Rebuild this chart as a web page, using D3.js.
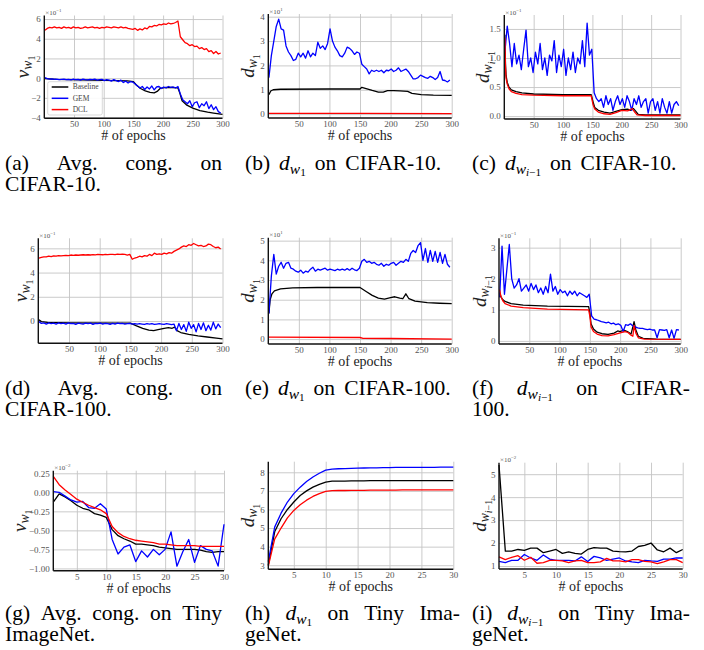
<!DOCTYPE html>
<html>
<head>
<meta charset="utf-8">
<script src="https://cdn.jsdelivr.net/npm/d3@7"></script>
<style>
body { margin: 0; background: #fff; }
svg { display: block; }
svg text { font-family: "Liberation Serif", "Times New Roman", "DejaVu Serif", serif; }
</style>
</head>
<body>
<script>
// epochs
var epochs4 = d3.range(1, 300, 4);   // 1, 5, ..., 297 (75 points) for the noisy runs
var epochs30 = d3.range(1, 31);      // Tiny ImageNet

// (a) avg. congruency, CIFAR-10 (x1e-1)
var aGEM = [
  0.05, -0.05, -0.10, -0.08, -0.12, -0.10, -0.15, -0.12, -0.10, -0.15,
  -0.12, -0.18, -0.10, -0.15, -0.12, -0.20, -0.10, -0.15, -0.18, -0.12,
  -0.15, -0.10, -0.20, -0.15, -0.12, -0.25, -0.15, -0.20, -0.30, -0.15,
  -0.25, -0.35, -0.20, -0.45, -0.30, -0.50, -0.35, -0.40, -0.60, -0.80,
  -1.00, -0.85, -1.15, -0.90, -1.10, -0.80, -1.20, -0.90, -0.85, -1.05,
  -0.90, -1.00, -0.85, -0.95, -0.90, -1.00, -0.85, -1.60, -2.20, -2.40,
  -2.60, -2.30, -2.90, -2.50, -2.40, -3.00, -2.60, -2.80, -2.40, -3.10,
  -2.70, -3.20, -2.90, -3.40, -3.55];
var aDCL = [
  4.85, 5.05, 5.15, 5.10, 5.20, 5.10, 5.15, 5.05, 5.20, 5.10,
  5.15, 5.05, 5.20, 5.10, 5.15, 5.05, 5.10, 5.20, 5.10, 5.15,
  5.20, 5.10, 5.15, 5.05, 5.15, 5.10, 5.20, 5.15, 5.10, 5.20,
  5.15, 5.10, 5.20, 5.10, 5.15, 5.05, 5.00, 4.95, 5.05, 4.85,
  5.00, 4.90, 5.10, 5.00, 5.25, 5.20, 5.35, 5.30, 5.45, 5.40,
  5.50, 5.45, 5.60, 5.50, 5.55, 5.65, 5.80, 4.20, 3.90, 3.60,
  3.50, 3.30, 3.40, 3.20, 3.25, 3.00, 3.10, 2.90, 3.00, 2.70,
  2.80, 2.50, 2.70, 2.45, 2.55];
var aBaseline = [[1, -0.05], [20, -0.12], [60, -0.18], [100, -0.22], [140, -0.28], [150, -0.35],
  [155, -0.7], [162, -1.05], [170, -1.3], [178, -1.45], [185, -1.5], [190, -1.35], [195, -1.05],
  [205, -0.95], [215, -0.95], [225, -1.0], [228, -1.5], [232, -2.3], [240, -2.75], [250, -3.05],
  [262, -3.3], [275, -3.45], [285, -3.55], [300, -3.68]];

// (b) d_w1, CIFAR-10 (x1e1)
var bGEM = [
  1.50, 2.40, 3.00, 3.60, 3.90, 3.50, 3.45, 2.80, 2.55, 2.40,
  2.20, 2.25, 2.50, 2.35, 2.50, 2.30, 2.60, 2.35, 2.50, 2.40,
  2.95, 2.70, 2.80, 2.65, 2.90, 3.50, 3.00, 2.75, 2.60, 2.40,
  2.35, 2.50, 2.75, 2.70, 2.60, 2.45, 2.55, 2.50, 2.05, 1.95,
  1.85, 1.65, 1.80, 1.75, 1.80, 1.75, 1.80, 1.70, 1.80, 1.78,
  1.85, 1.75, 1.80, 1.90, 1.75, 1.80, 1.85, 1.75, 1.60, 1.45,
  1.45, 1.50, 1.60, 1.55, 1.50, 1.47, 1.55, 1.50, 1.42, 1.50,
  1.75, 1.40, 1.38, 1.32, 1.40];
var bBaseline = [[1, 0.8], [4, 0.95], [8, 1.0], [20, 1.02], [100, 1.03], [150, 1.03], [153, 1.1],
  [160, 1.05], [170, 0.97], [180, 0.9], [188, 0.9], [195, 0.96], [205, 0.96], [215, 0.95],
  [228, 0.93], [235, 0.85], [250, 0.8], [270, 0.78], [300, 0.77]];
var bDCL = [[1, 0.03], [150, 0.03], [300, 0.02]];

// (c) d_wi-1, CIFAR-10 (x1e-1)
var cGEM = [
  1.10, 1.55, 1.25, 0.85, 1.25, 0.90, 1.05, 0.80, 1.15, 1.48,
  0.85, 1.00, 0.75, 1.10, 0.90, 1.25, 0.80, 1.00, 0.70, 1.05,
  0.95, 1.30, 0.75, 1.05, 0.85, 1.15, 0.70, 1.00, 0.80, 1.10,
  0.75, 1.00, 0.90, 1.30, 0.85, 1.60, 1.05, 1.15, 0.40, 0.30,
  0.25, 0.30, 0.15, 0.35, 0.20, 0.30, 0.10, 0.25, 0.35, 0.20,
  0.30, 0.15, 0.35, 0.25, 0.10, 0.30, 0.20, 0.35, 0.15, 0.25,
  0.30, 0.05, 0.25, 0.30, 0.10, 0.25, 0.05, 0.30, 0.15, 0.05,
  0.25, 0.05, 0.20, 0.25, 0.18];
var cBaseline = [[1, 1.4], [2, 0.9], [3, 0.7], [5, 0.58], [8, 0.5], [12, 0.45], [20, 0.42], [30, 0.4],
  [50, 0.38], [100, 0.37], [148, 0.37], [151, 0.25], [154, 0.15], [160, 0.1], [170, 0.07], [180, 0.05],
  [190, 0.08], [200, 0.11], [210, 0.12], [215, 0.1], [220, 0.13], [224, 0.08], [228, 0.03], [240, 0.02], [300, 0.02]];
var cDCL = [[1, 1.35], [2, 0.85], [3, 0.65], [5, 0.55], [8, 0.47], [12, 0.42], [20, 0.39], [30, 0.37],
  [50, 0.36], [100, 0.35], [148, 0.35], [151, 0.2], [154, 0.12], [160, 0.07], [170, 0.04], [180, 0.03],
  [190, 0.06], [200, 0.1], [210, 0.09], [218, 0.13], [222, 0.07], [226, 0.02], [240, 0.01], [300, 0.01]];

// (d) avg. congruency, CIFAR-100 (x1e-1)
var dGEM = [
  -0.05, -0.20, -0.15, -0.25, -0.15, -0.22, -0.18, -0.25, -0.15, -0.22,
  -0.18, -0.25, -0.15, -0.22, -0.20, -0.28, -0.18, -0.22, -0.25, -0.18,
  -0.22, -0.18, -0.28, -0.20, -0.22, -0.18, -0.25, -0.20, -0.22, -0.28,
  -0.20, -0.25, -0.18, -0.22, -0.20, -0.25, -0.22, -0.20, -0.25, -0.22,
  -0.25, -0.22, -0.25, -0.28, -0.22, -0.25, -0.22, -0.28, -0.25, -0.22,
  -0.25, -0.28, -0.22, -0.25, -0.30, -0.25, -0.80, -0.20, -0.70, -0.30,
  -0.85, -0.10, -0.60, -0.30, -0.90, -0.20, -0.70, -0.15, -0.80, -0.35,
  -0.75, -0.10, -0.65, -0.25, -0.55];
var dDCL = [
  5.20, 5.25, 5.30, 5.30, 5.35, 5.32, 5.38, 5.35, 5.40, 5.38,
  5.40, 5.42, 5.40, 5.45, 5.42, 5.45, 5.43, 5.45, 5.47, 5.45,
  5.47, 5.45, 5.48, 5.46, 5.50, 5.48, 5.47, 5.50, 5.48, 5.50,
  5.50, 5.48, 5.52, 5.50, 5.52, 5.50, 5.45, 5.50, 5.10, 5.20,
  5.25, 5.35, 5.30, 5.40, 5.35, 5.50, 5.40, 5.60, 5.50, 5.55,
  5.50, 5.60, 5.55, 5.65, 5.60, 5.75, 5.85, 5.95, 6.10, 6.20,
  6.15, 6.30, 6.25, 6.40, 6.30, 6.20, 6.25, 6.15, 6.20, 6.35,
  6.30, 6.15, 6.05, 6.10, 5.95];
var dBaseline = [[1, 0.1], [5, -0.05], [15, -0.12], [50, -0.15], [150, -0.17], [160, -0.4], [170, -0.6],
  [180, -0.75], [188, -0.8], [195, -0.72], [205, -0.6], [212, -0.55], [218, -0.6], [222, -0.5],
  [226, -0.8], [232, -0.95], [245, -1.1], [260, -1.22], [275, -1.32], [290, -1.42], [300, -1.48]];

// (e) d_w1, CIFAR-100 (x1e1)
var eGEM = [
  1.30, 3.20, 4.30, 3.30, 3.70, 3.90, 3.60, 3.85, 3.90, 3.60,
  3.55, 3.45, 3.40, 3.50, 3.35, 3.45, 3.40, 3.55, 3.65, 3.45,
  3.55, 3.50, 3.55, 3.60, 3.50, 3.55, 3.52, 3.48, 3.55, 3.50,
  3.55, 3.50, 3.58, 3.50, 3.60, 3.52, 3.48, 3.60, 3.95, 4.05,
  3.90, 3.95, 3.85, 3.90, 3.80, 3.75, 3.85, 3.70, 3.80, 3.75,
  3.85, 3.90, 3.75, 3.85, 3.95, 3.90, 4.05, 3.95, 4.35, 4.50,
  4.40, 4.75, 4.90, 4.00, 4.60, 3.90, 4.50, 3.95, 4.45, 3.90,
  4.40, 3.85, 4.30, 3.80, 3.65];
var eBaseline = [[1, 1.3], [3, 2.0], [6, 2.3], [10, 2.45], [20, 2.55], [40, 2.6], [80, 2.62], [150, 2.62],
  [160, 2.42], [170, 2.22], [180, 2.08], [190, 2.03], [200, 2.1], [207, 2.15], [215, 2.08], [220, 2.05],
  [225, 2.3], [230, 2.05], [240, 1.93], [260, 1.85], [280, 1.82], [300, 1.8]];
var eDCL = [[1, 0.1], [150, 0.08], [155, 0.04], [200, 0.03], [300, 0.0]];

// (f) d_wi-1, CIFAR-100 (x1e-1)
var fGEM = [
  1.40, 3.05, 1.50, 2.30, 3.10, 2.00, 1.70, 1.80, 2.00, 1.60,
  1.70, 1.80, 1.60, 1.85, 1.65, 1.80, 1.55, 1.70, 1.50, 1.75,
  1.55, 2.15, 1.60, 1.75, 1.50, 1.65, 1.55, 1.60, 1.45, 1.60,
  1.50, 1.60, 1.45, 1.55, 1.50, 1.45, 1.40, 1.50, 0.80, 0.70,
  0.68, 0.65, 0.62, 0.60, 0.58, 0.60, 0.55, 0.57, 0.52, 0.55,
  0.50, 0.30, 0.52, 0.50, 0.55, 0.48, 0.45, 0.42, 0.40, 0.40,
  0.38, 0.36, 0.38, 0.35, 0.35, 0.10, 0.36, 0.35, 0.34, 0.36,
  0.10, 0.35, 0.08, 0.36, 0.35];
var fBaseline = [[1, 1.55], [3, 1.42], [6, 1.33], [10, 1.27], [20, 1.2], [40, 1.15], [80, 1.12], [148, 1.1],
  [150, 0.9], [152, 0.55], [156, 0.38], [162, 0.28], [170, 0.23], [180, 0.21], [190, 0.25], [196, 0.32],
  [200, 0.3], [206, 0.35], [212, 0.3], [218, 0.22], [221, 0.45], [223, 0.62], [226, 0.35], [230, 0.15],
  [238, 0.08], [260, 0.06], [300, 0.05]];
var fDCL = [[1, 1.65], [3, 1.45], [6, 1.3], [10, 1.2], [20, 1.12], [40, 1.07], [80, 1.02], [148, 1.0],
  [150, 0.8], [152, 0.45], [156, 0.3], [162, 0.22], [170, 0.17], [180, 0.16], [190, 0.2], [200, 0.26],
  [208, 0.3], [213, 0.27], [218, 0.18], [221, 0.15], [223, 0.5], [226, 0.25], [230, 0.1], [240, 0.06], [300, 0.05]];

// (g) avg. congruency, Tiny ImageNet (x1e-2)
var gBaseline = [-0.13, -0.02, -0.06, -0.11, -0.17, -0.21, -0.23, -0.28, -0.30, -0.33,
  -0.49, -0.57, -0.61, -0.64, -0.68, -0.68, -0.69, -0.70, -0.72, -0.73,
  -0.74, -0.75, -0.75, -0.75, -0.75, -0.76, -0.78, -0.79, -0.78, -0.78];
var gGEM = [0.01, 0.00, -0.05, -0.10, -0.13, -0.12, -0.20, -0.21, -0.15, -0.22,
  -0.62, -0.81, -0.72, -0.69, -0.91, -0.77, -0.85, -0.75, -0.82, -0.75,
  -0.52, -0.97, -0.78, -0.62, -0.92, -0.70, -0.75, -0.77, -0.97, -0.42];
var gDCL = [0.21, 0.10, 0.03, -0.03, -0.09, -0.13, -0.17, -0.20, -0.23, -0.28,
  -0.45, -0.53, -0.58, -0.61, -0.63, -0.64, -0.65, -0.66, -0.68, -0.68,
  -0.69, -0.70, -0.70, -0.70, -0.70, -0.71, -0.71, -0.71, -0.71, -0.71];

// (h) d_w1, Tiny ImageNet
var hGEM = [3.2, 5.05, 5.8, 6.4, 6.85, 7.2, 7.5, 7.75, 7.95, 8.12, 8.17, 8.19, 8.2, 8.21, 8.22,
  8.23, 8.24, 8.24, 8.25, 8.25, 8.26, 8.26, 8.26, 8.27, 8.27, 8.27, 8.27, 8.28, 8.28, 8.28];
var hBaseline = [3.0, 4.8, 5.5, 6.0, 6.4, 6.75, 7.0, 7.2, 7.35, 7.47, 7.52, 7.53, 7.53, 7.54, 7.54,
  7.54, 7.55, 7.55, 7.55, 7.55, 7.55, 7.55, 7.55, 7.55, 7.55, 7.55, 7.55, 7.55, 7.55, 7.55];
var hDCL = [2.95, 4.4, 5.0, 5.55, 5.95, 6.25, 6.5, 6.7, 6.85, 6.97, 7.01, 7.02, 7.02, 7.03, 7.03,
  7.03, 7.04, 7.04, 7.04, 7.04, 7.04, 7.05, 7.05, 7.05, 7.05, 7.05, 7.05, 7.05, 7.05, 7.05];

// (i) d_wi-1, Tiny ImageNet (x1e-2)
var iBaseline = [5.4, 1.65, 1.65, 1.72, 1.68, 1.78, 1.78, 1.58, 1.65, 1.72,
  1.55, 1.62, 1.55, 1.52, 1.72, 1.8, 1.78, 1.78, 1.65, 1.63,
  1.62, 1.65, 1.85, 1.9, 2.0, 1.7, 1.62, 1.78, 1.58, 1.72];
var iGEM = [1.2, 1.15, 1.25, 1.25, 1.5, 1.35, 1.25, 1.48, 1.3, 1.25,
  1.25, 1.25, 1.22, 1.4, 1.2, 1.42, 1.35, 1.25, 1.3, 1.35,
  1.22, 1.18, 1.15, 1.25, 1.22, 1.2, 1.3, 1.3, 1.35, 1.35];
var iDCL = [1.4, 1.28, 1.38, 1.45, 1.25, 1.38, 1.12, 1.15, 1.25, 1.25,
  1.22, 1.15, 1.22, 1.25, 1.15, 1.15, 1.18, 1.33, 1.22, 1.22,
  1.18, 1.28, 1.28, 1.2, 1.18, 1.1, 1.18, 1.28, 1.28, 1.15];

var ticks300 = [50, 100, 150, 200, 250, 300];
var ticks30 = [5, 10, 15, 20, 25, 30];
var legendLabels = ["Baseline", "GEM", "DCL"];
var colors = { Baseline: "#000000", GEM: "#0000ff", DCL: "#ff0000" };

var width = 704, height = 650;

var svg = d3.select("body").append("svg")
    .attr("width", width)
    .attr("height", height);

function onEpochs(xs, vals) {
    return vals.map((v, i) => [xs[i], v]);
}

// d_{w_1}, d_{w_{i-1}}, nu_{w_1}
function mathLabel(t, base, sub, size) {
    t.append("tspan").attr("font-style", "italic").text(base);
    t.append("tspan").attr("font-style", "italic").attr("font-size", size * 0.72).attr("dy", size * 0.18).text("w");
    var s = t.append("tspan").attr("font-size", size * 0.52).attr("dy", size * 0.12);
    if (sub === "1") {
        s.text("1");
    } else {
        s.attr("font-style", "italic").text("i");
        t.append("tspan").attr("font-size", size * 0.52).text("\u22121");
    }
}

var panels = [
    { left: 44.3, right: 222.5, top: 15.5, bottom: 118.3, xd: [0, 300], yd: [-4.08, 6.36],
      xt: ticks300, yt: [-4, -2, 0, 2, 4, 6], fmt: "d", exp: "\u22121", lab: ["\u03bd", "1"], labX: 24,
      series: { Baseline: aBaseline, GEM: onEpochs(epochs4, aGEM), DCL: onEpochs(epochs4, aDCL) }, legend: true },
    { left: 268.3, right: 451.7, top: 14, bottom: 118, xd: [0, 300], yd: [-0.16, 4.11],
      xt: ticks300, yt: [0, 1, 2, 3, 4], fmt: "d", exp: "1", lab: ["d", "1"], labX: 249,
      series: { Baseline: bBaseline, GEM: onEpochs(epochs4, bGEM), DCL: bDCL } },
    { left: 504.3, right: 680.5, top: 15, bottom: 119, xd: [0, 300], yd: [-0.05, 1.74],
      xt: ticks300, yt: [0, 0.5, 1.0, 1.5], fmt: ".1f", exp: "\u22121", lab: ["d", "i"], labX: 484,
      series: { Baseline: cBaseline, GEM: onEpochs(epochs4, cGEM), DCL: cDCL } },
    { left: 38.3, right: 222.5, top: 238.3, bottom: 343.3, xd: [0, 300], yd: [-1.84, 6.83],
      xt: ticks300, yt: [0, 2, 4, 6], fmt: "d", exp: "\u22121", lab: ["\u03bd", "1"], labX: 22,
      series: { Baseline: dBaseline, GEM: onEpochs(epochs4, dGEM), DCL: onEpochs(epochs4, dDCL) } },
    { left: 268.3, right: 451.7, top: 237.7, bottom: 344, xd: [0, 300], yd: [-0.25, 5.15],
      xt: ticks300, yt: [0, 1, 2, 3, 4, 5], fmt: "d", exp: "1", lab: ["d", "1"], labX: 249,
      series: { Baseline: eBaseline, GEM: onEpochs(epochs4, eGEM), DCL: eDCL } },
    { left: 499, right: 680.7, top: 238.3, bottom: 344, xd: [0, 300], yd: [-0.1, 3.3],
      xt: ticks300, yt: [0, 1, 2, 3], fmt: "d", exp: "\u22121", lab: ["d", "i"], labX: 481,
      series: { Baseline: fBaseline, GEM: onEpochs(epochs4, fGEM), DCL: fDCL } },
    { left: 53.3, right: 224, top: 470.7, bottom: 570.7, xd: [1, 30], yd: [-1.03, 0.284],
      xt: ticks30, yt: [-1, -0.75, -0.5, -0.25, 0, 0.25], fmt: ".2f", exp: "\u22122", lab: ["\u03bd", "1"], labX: 21,
      series: { Baseline: onEpochs(epochs30, gBaseline), GEM: onEpochs(epochs30, gGEM), DCL: onEpochs(epochs30, gDCL) } },
    { left: 268.3, right: 453.3, top: 461.7, bottom: 569.3, xd: [1, 30], yd: [2.78, 8.57],
      xt: ticks30, yt: [3, 4, 5, 6, 7, 8], fmt: "d", exp: null, lab: ["d", "1"], labX: 249,
      series: { Baseline: onEpochs(epochs30, hBaseline), GEM: onEpochs(epochs30, hGEM), DCL: onEpochs(epochs30, hDCL) } },
    { left: 499, right: 682.7, top: 462.7, bottom: 569, xd: [1, 30], yd: [0.87, 5.5],
      xt: ticks30, yt: [1, 2, 3, 4, 5], fmt: "d", exp: "\u22122", lab: ["d", "i"], labX: 481,
      series: { Baseline: onEpochs(epochs30, iBaseline), GEM: onEpochs(epochs30, iGEM), DCL: onEpochs(epochs30, iDCL) } }
];

panels.forEach(drawPanel);

function drawPanel(p) {
    var x = d3.scaleLinear().domain(p.xd).range([p.left, p.right]);
    var y = d3.scaleLinear().domain(p.yd).range([p.bottom, p.top]);
    var h = p.bottom - p.top, w = p.right - p.left;
    var g = svg.append("g");

    // grid
    var gx = g.append("g").attr("transform", "translate(0," + p.bottom + ")")
        .call(d3.axisBottom(x).tickValues(p.xt).tickSize(-h).tickFormat(""));
    var gy = g.append("g").attr("transform", "translate(" + p.left + ",0)")
        .call(d3.axisLeft(y).tickValues(p.yt).tickSize(-w).tickFormat(""));
    [gx, gy].forEach(a => {
        a.select(".domain").remove();
        a.selectAll("line").attr("stroke", "#c4c4c4").attr("stroke-width", 0.9);
    });

    // tick labels
    var ax = g.append("g").attr("transform", "translate(0," + p.bottom + ")")
        .call(d3.axisBottom(x).tickValues(p.xt).tickSize(0).tickPadding(2.5));
    var ay = g.append("g").attr("transform", "translate(" + p.left + ",0)")
        .call(d3.axisLeft(y).tickValues(p.yt).tickSize(0).tickPadding(3.5).tickFormat(d3.format(p.fmt)));
    [ax, ay].forEach(a => {
        a.select(".domain").remove();
        a.selectAll("text").attr("font-size", 9).attr("fill", "#555");
    });

    // lines
    var line = d3.line().x(d => x(d[0])).y(d => y(d[1]));
    legendLabels.forEach(k => {
        g.append("path")
            .datum(p.series[k])
            .attr("fill", "none")
            .attr("stroke", colors[k])
            .attr("stroke-width", 1.3)
            .attr("stroke-linejoin", "round")
            .attr("d", line);
    });

    // spines (left, bottom)
    g.append("line").attr("x1", p.left).attr("x2", p.left).attr("y1", p.top).attr("y2", p.bottom)
        .attr("stroke", "#111").attr("stroke-width", 1.4);
    g.append("line").attr("x1", p.left).attr("x2", p.right).attr("y1", p.bottom).attr("y2", p.bottom)
        .attr("stroke", "#111").attr("stroke-width", 1.4);

    // offset text
    if (p.exp) {
        var e = g.append("text").attr("x", p.left + 1).attr("y", p.top - 0.5)
            .attr("font-size", 7).attr("fill", "#555").text("\u00d710");
        e.append("tspan").attr("font-size", 5).attr("dy", -3).text(p.exp);
    }

    // axis labels
    g.append("text")
        .attr("x", (p.left + p.right) / 2)
        .attr("y", p.bottom + 22)
        .attr("text-anchor", "middle")
        .attr("font-size", 14)
        .attr("fill", "#222")
        .text("# of epochs");

    var yl = g.append("text")
        .attr("text-anchor", "middle")
        .attr("font-size", 19)
        .attr("fill", "#222")
        .attr("transform", "translate(" + (p.labX + 5) + "," + ((p.top + p.bottom) / 2) + ") rotate(-90)");
    mathLabel(yl, p.lab[0], p.lab[1], 19);

    if (p.legend) {
        var lg = g.append("g");
        lg.append("rect").attr("x", 47.7).attr("y", 81.7).attr("width", 54.6).attr("height", 33.3)
            .attr("rx", 2).attr("fill", "#fff").attr("fill-opacity", 0.9)
            .attr("stroke", "#cfcfcf").attr("stroke-width", 0.8);
        legendLabels.forEach((k, i) => {
            var yy = 87 + i * 11.3;
            lg.append("line").attr("x1", 51.7).attr("x2", 68.3).attr("y1", yy).attr("y2", yy)
                .attr("stroke", colors[k]).attr("stroke-width", 1.5);
            lg.append("text").attr("x", 72.7).attr("y", yy).attr("dy", "0.33em")
                .attr("font-size", 7.5).attr("fill", "#444").text(k);
        });
    }
}

// captions
var capSize = 21.5;
var captions = [
    { x: 5, w: 217, y: 170, words: ["(a)", "Avg.", "cong.", "on"], justify: true },
    { x: 5, w: 217, y: 191, words: ["CIFAR-10."], justify: false },
    { x: 245, w: 215, y: 170, words: ["(b)", { m: ["d", "1"] }, "on", "CIFAR-10."], justify: false },
    { x: 472, w: 218, y: 170, words: ["(c)", { m: ["d", "i"] }, "on", "CIFAR-10."], justify: false },
    { x: 5, w: 217, y: 395, words: ["(d)", "Avg.", "cong.", "on"], justify: true },
    { x: 5, w: 217, y: 416, words: ["CIFAR-100."], justify: false },
    { x: 245, w: 222, y: 395, words: ["(e)", { m: ["d", "1"] }, "on", "CIFAR-100."], justify: false },
    { x: 472, w: 218, y: 395, words: ["(f)", { m: ["d", "i"] }, "on", "CIFAR-"], justify: true },
    { x: 472, w: 218, y: 416, words: ["100."], justify: false },
    { x: 5, w: 217, y: 620, words: ["(g)", "Avg.", "cong.", "on", "Tiny"], justify: true },
    { x: 5, w: 217, y: 641, words: ["ImageNet."], justify: false },
    { x: 245, w: 215, y: 620, words: ["(h)", { m: ["d", "1"] }, "on", "Tiny", "Ima-"], justify: true },
    { x: 245, w: 215, y: 641, words: ["geNet."], justify: false },
    { x: 472, w: 218, y: 620, words: ["(i)", { m: ["d", "i"] }, "on", "Tiny", "Ima-"], justify: true },
    { x: 472, w: 218, y: 641, words: ["geNet."], justify: false }
];

captions.forEach(c => {
    var g = svg.append("g");
    var items = c.words.map(wd => {
        var t = g.append("text").attr("y", c.y).attr("font-size", capSize).attr("fill", "#000");
        if (typeof wd === "string") t.text(wd);
        else mathLabel(t, wd.m[0], wd.m[1], capSize);
        return t;
    });
    var widths = items.map(t => t.node().getComputedTextLength());
    var gap = (c.justify && items.length > 1) ? (c.w - d3.sum(widths)) / (items.length - 1) : capSize * 0.42;
    var xx = c.x;
    items.forEach((t, i) => {
        t.attr("x", xx);
        xx += widths[i] + gap;
    });
});
</script>
</body>
</html>
